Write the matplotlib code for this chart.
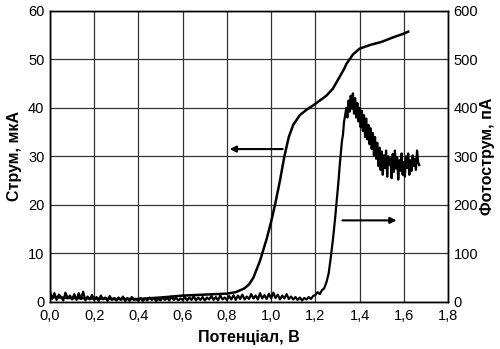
import numpy as np
import matplotlib.pyplot as plt
from matplotlib.ticker import FuncFormatter

plt.rcParams["font.family"] = ["Liberation Sans", "DejaVu Sans"]

# current curve (left axis, uA)
cur_x = [0.0, 0.1, 0.2, 0.3, 0.4, 0.5, 0.6, 0.7, 0.8, 0.84, 0.88, 0.9, 0.92, 0.95, 0.98,
         1.0, 1.02, 1.04, 1.06, 1.08, 1.10, 1.13, 1.16, 1.19, 1.22, 1.25, 1.28, 1.31,
         1.33, 1.34, 1.37, 1.40, 1.45, 1.50, 1.55, 1.60, 1.62]
cur_y = [1.0, 0.8, 0.7, 0.6, 0.6, 0.9, 1.3, 1.5, 1.7, 2.0, 2.8, 3.6, 5.0, 8.5, 13.0,
         16.5, 20.5, 25.0, 30.0, 34.0, 36.5, 38.5, 39.6, 40.5, 41.5, 42.5, 44.0, 46.4,
         48.0, 49.0, 51.0, 52.2, 53.0, 53.6, 54.5, 55.3, 55.7]

# photocurrent (right axis, pA)
photo_low = [22, 6, 18, 4, 15, 10, 3, 19, 7, 13,
             5, 16, 4, 18, 6, 21, 3, 11, 5, 14,
             4, 10, 2, 13, 5, 9, 2, 12, 4, 8,
             3, 9, 4, 11, 2, 8, 2, 10, 4, 6,
             2, 8, 2, 7, 3, 9, 4, 8, 2, 6,
             3, 9, 4, 8, 3, 11, 4, 9, 3, 7,
             4, 10, 3, 9, 4, 12, 3, 9, 4, 10,
             3, 9, 5, 12, 4, 10, 3, 13, 5, 9,
             4, 12, 5, 14, 4, 13, 6, 15, 5, 11,
             6, 16, 7, 13, 5, 18, 7, 14, 6, 17,
             7, 19, 8, 15, 5, 13, 7, 16, 6, 11,
             5, 10, 4, 9, 3, 8, 5, 10, 6, 12,
             14]
photo_rise = [20, 16, 24, 28, 40, 58, 92, 130, 175]
photo_high = [225, 250, 280, 305, 330, 345, 372, 385, 400, 380,
              415, 392, 425, 398, 430, 388, 420, 380, 410, 372,
              400, 360, 394, 352, 385, 340, 378, 335, 365, 325,
              358, 315, 348, 302, 340, 295, 328, 280, 318, 272,
              310, 262, 302, 276, 312, 258, 300, 282, 296, 255,
              305, 268, 312, 275, 298, 252, 292, 270, 306, 262,
              288, 258, 300, 276, 306, 262, 292, 270, 302, 280,
              295, 272, 312, 288, 282]

photo_x = np.concatenate([np.linspace(0.0, 1.20, len(photo_low)),
                          np.linspace(1.21, 1.29, len(photo_rise)),
                          np.linspace(1.30, 1.67, len(photo_high))])
photo_y = photo_low + photo_rise + photo_high

fig = plt.figure(figsize=(5.0, 3.49), dpi=100)
ax = fig.add_axes([0.10, 0.135, 0.796, 0.834])
ax2 = ax.twinx()

ax.plot(cur_x, cur_y, color="black", linewidth=1.8)
ax2.plot(photo_x, photo_y, color="black", linewidth=1.6)

ax.set_xlim(0, 1.8)
ax.set_ylim(0, 60)
ax2.set_ylim(0, 600)
ax.set_xticks(np.arange(0, 1.81, 0.2))
ax.set_yticks(range(0, 61, 10))
ax2.set_yticks(range(0, 601, 100))
ax.xaxis.set_major_formatter(FuncFormatter(lambda v, p: f"{v:.1f}".replace(".", ",")))
ax.grid(True, color="#333333", linewidth=0.9)
ax.set_axisbelow(True)

for a in (ax, ax2):
    a.tick_params(length=0, labelsize=10.5, pad=4)
    for s in a.spines.values():
        s.set_linewidth(1.0)
ax.tick_params(axis="x", pad=5)

ax.set_xlabel("Потенціал, В", fontsize=11.5, fontweight="bold")
ax.xaxis.set_label_coords(0.5, -0.095)
ax.set_ylabel("Струм, мкА", fontsize=11.5, fontweight="bold")
ax.yaxis.set_label_coords(-0.07, 0.5)
ax2.set_ylabel("Фотострум, пА", fontsize=11.5, fontweight="bold")
ax2.yaxis.set_label_coords(1.08, 0.5)

# arrows pointing to the matching axis
ax.annotate("", xy=(0.80, 31.5), xytext=(1.065, 31.5),
            arrowprops=dict(arrowstyle="-|>", color="black", lw=1.5, mutation_scale=9))
ax.annotate("", xy=(1.58, 16.8), xytext=(1.31, 16.8),
            arrowprops=dict(arrowstyle="-|>", color="black", lw=1.5, mutation_scale=9))

fig.savefig("out.png", dpi=100)
